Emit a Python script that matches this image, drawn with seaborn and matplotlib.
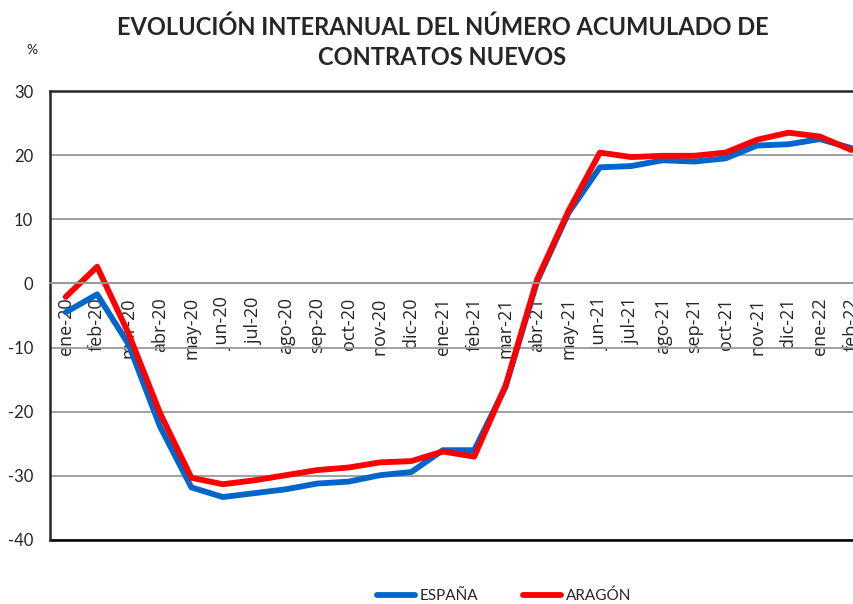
import matplotlib
matplotlib.use("Agg")
import matplotlib.pyplot as plt
import seaborn as sns
import pandas as pd

months = ["ene-20", "feb-20", "mar-20", "abr-20", "may-20", "jun-20", "jul-20",
          "ago-20", "sep-20", "oct-20", "nov-20", "dic-20", "ene-21", "feb-21",
          "mar-21", "abr-21", "may-21", "jun-21", "jul-21", "ago-21", "sep-21",
          "oct-21", "nov-21", "dic-21", "ene-22", "feb-22"]
espana = [-4.5, -1.7, -9.5, -22.3, -31.8, -33.3, -32.7, -32.1, -31.2, -30.9,
          -29.9, -29.4, -26.0, -26.0, -16.1, 0.3, 11.0, 18.1, 18.3, 19.2,
          19.0, 19.5, 21.5, 21.7, 22.5, 21.1]
aragon = [-2.1, 2.6, -7.8, -20.2, -30.3, -31.3, -30.7, -29.9, -29.1, -28.7,
          -27.9, -27.7, -26.2, -27.0, -15.9, 0.6, 11.3, 20.4, 19.7, 19.9,
          19.9, 20.4, 22.4, 23.5, 22.9, 20.8]
series = ["ESPAÑA", "ARAGÓN"]
colors = ["#0066CC", "#FF0000"]
yticks = [-40, -30, -20, -10, 0, 10, 20, 30]

df = pd.DataFrame({
    "x": list(range(len(months))) * 2,
    "valor": espana + aragon,
    "serie": [series[0]] * len(months) + [series[1]] * len(months),
})

sns.set_style("white")
plt.rcParams["font.family"] = ["Lato", "DejaVu Sans"]

fig = plt.figure(figsize=(8.54, 6.04), dpi=100)
ax = fig.add_axes([50 / 854, 64 / 604, 817 / 854, 449 / 604])

sns.lineplot(data=df, x="x", y="valor", hue="serie", palette=colors,
             linewidth=4.2, ax=ax, legend=True)
for line in ax.get_lines():
    line.set_solid_joinstyle("round")
    line.set_solid_capstyle("round")

ax.set_xlim(-0.5, len(months) - 0.5)
ax.set_ylim(-40, 30)
ax.set_yticks(yticks)
ax.set_yticklabels([str(v) for v in yticks], fontsize=12)
ax.yaxis.grid(True, color="#999999", linewidth=1.3)
ax.set_axisbelow(True)

# eje x cruzando en cero
ax.spines["bottom"].set_position(("data", 0))
ax.spines["bottom"].set_color("#999999")
ax.spines["bottom"].set_linewidth(1.3)
ax.axhline(-40, color="black", linewidth=1.8, clip_on=False)
ax.spines["left"].set_linewidth(1.8)
ax.spines["top"].set_linewidth(1.8)
ax.spines["right"].set_visible(False)
ax.set_xticks(range(len(months)))
ax.set_xticklabels(months, rotation=90, fontsize=13, family=["Open Sans", "DejaVu Sans"])
ax.tick_params(axis="x", length=0, pad=10)
ax.tick_params(axis="y", length=0, pad=12)
ax.set_xlabel("")
ax.set_ylabel("")

fig.text(0.518, 1 - 42 / 604, "EVOLUCIÓN INTERANUAL DEL NÚMERO ACUMULADO DE\nCONTRATOS NUEVOS",
         ha="center", va="center", fontsize=17, fontweight="bold", linespacing=1.35)
fig.text(32 / 854, 1 - 50 / 604, "%", ha="center", va="center", fontsize=10)

handles, labels = ax.get_legend_handles_labels()
ax.legend(handles, labels, loc="center", bbox_to_anchor=(504 / 854, 8 / 604),
          bbox_transform=fig.transFigure, ncol=2, frameon=False, fontsize=11,
          handlelength=2.5, columnspacing=2.9, handletextpad=0.3)

fig.savefig("out.png", dpi=100)
